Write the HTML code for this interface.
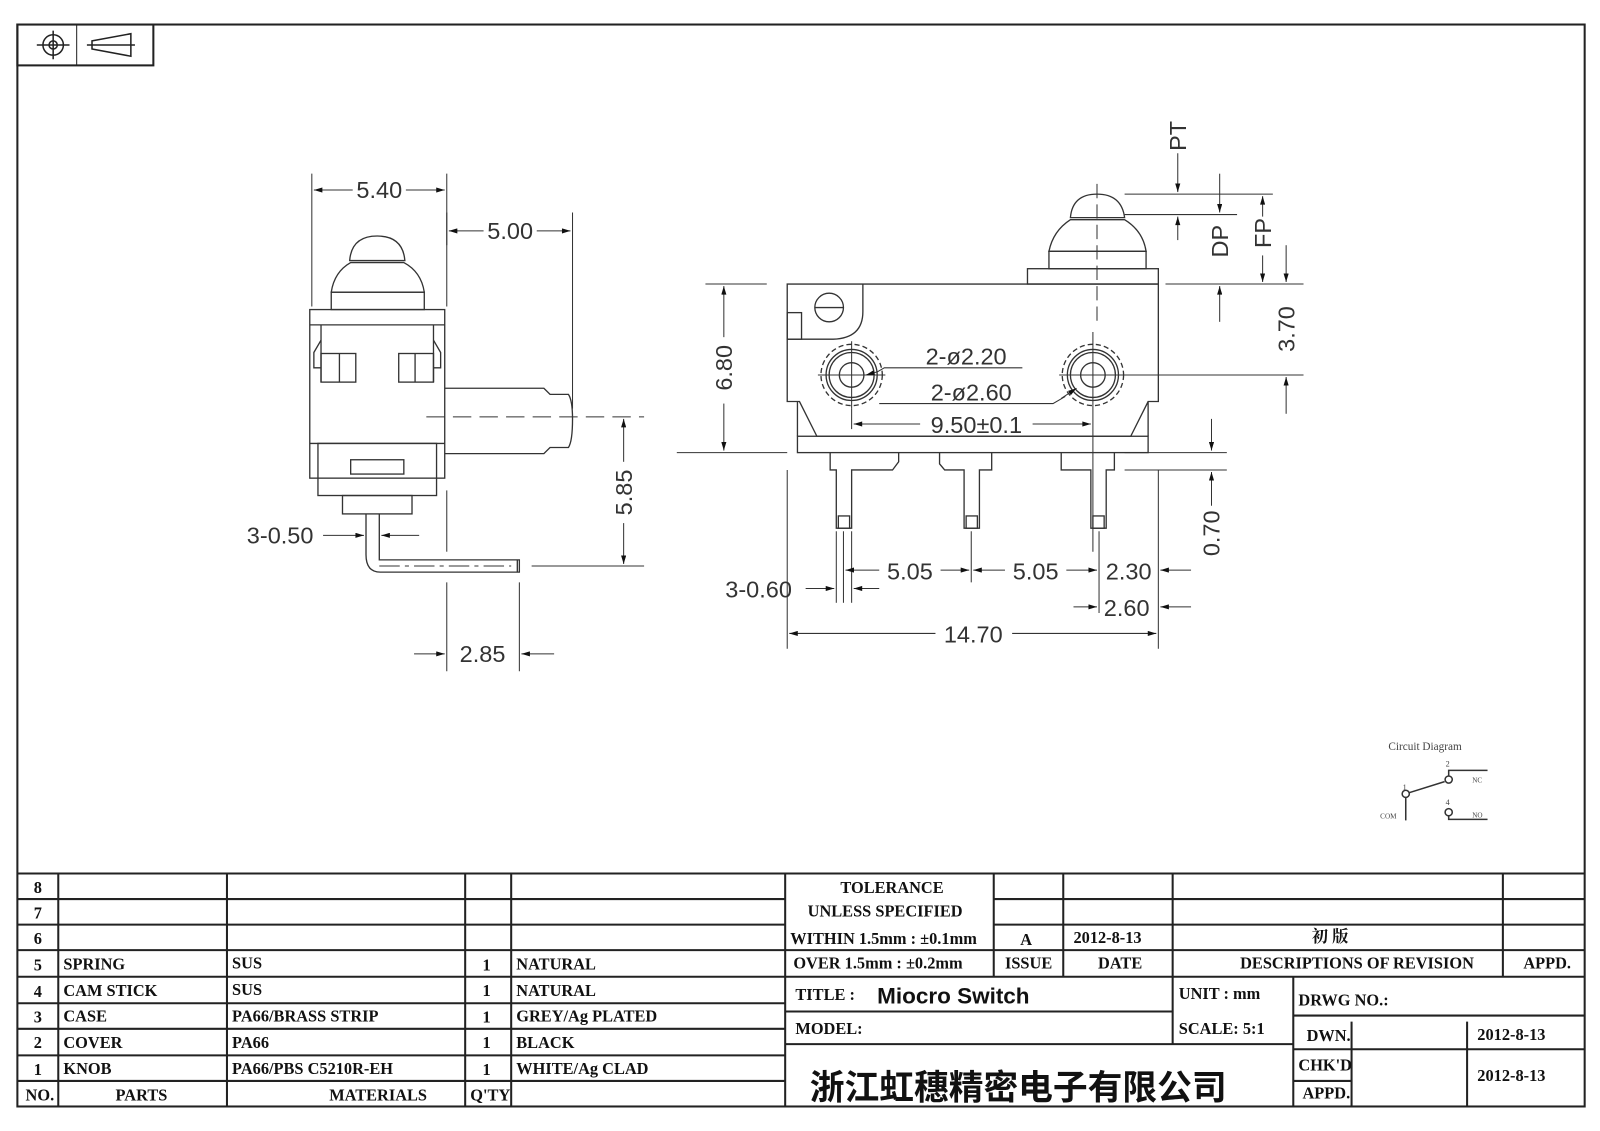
<!DOCTYPE html>
<html><head><meta charset="utf-8"><style>
html,body{margin:0;padding:0;background:#fff;}
svg{display:block;}
.t{font-family:"Liberation Serif","Noto Serif CJK SC",serif;font-weight:bold;font-size:16px;fill:#111;}
.d{font-family:"Liberation Sans",sans-serif;font-size:23px;fill:#333;}
</style></head><body>
<svg width="1600" height="1131" viewBox="0 0 1565 1107" preserveAspectRatio="none" xmlns="http://www.w3.org/2000/svg">
<defs>
<marker id="a" viewBox="0 0 10 6" refX="10" refY="3" markerWidth="12" markerHeight="5" orient="auto-start-reverse" markerUnits="userSpaceOnUse"><path d="M0,0L10,3L0,6z" fill="#111"/></marker>
</defs>
<rect width="1565" height="1107" fill="#fff"/>
<g fill="none" stroke="#222" stroke-width="2">
<rect x="17" y="24" width="1533" height="1059"/>
<rect x="17" y="24" width="133" height="40"/>
<line x1="75" y1="24" x2="75" y2="64" stroke-width="1"/>
</g>
<g fill="none" stroke="#222" stroke-width="1.5">
<circle cx="52" cy="44" r="10"/><circle cx="52" cy="44" r="4"/>
<line x1="36" y1="44" x2="68" y2="44"/><line x1="52" y1="30" x2="52" y2="58"/>
<path d="M90,40 L128,33 L128,55 L90,48 Z"/><line x1="85" y1="44" x2="132" y2="44"/>
</g>

<!-- LEFT VIEW -->
<g fill="none" stroke="#333" stroke-width="1.3">
<path d="M342,255 Q344,231 369,231 Q394,231 396,255 Z"/>
<path d="M343,257 L395,257 Q412,266 415,286 L324,286 Q327,266 343,257 Z"/>
<rect x="324" y="286" width="91" height="17"/>
<rect x="303" y="303" width="132" height="165"/>
<line x1="303" y1="318" x2="435" y2="318"/>
<line x1="314" y1="318" x2="314" y2="374"/><line x1="424" y1="318" x2="424" y2="374"/>
<path d="M314,333 L307,345 L307,360 L314,360"/><path d="M424,333 L431,345 L431,360 L424,360"/>
<rect x="314" y="346" width="34" height="28"/><line x1="332" y1="346" x2="332" y2="374"/>
<rect x="390" y="346" width="34" height="28"/><line x1="406" y1="346" x2="406" y2="374"/>
<line x1="303" y1="434" x2="435" y2="434"/>
<rect x="311" y="434" width="116" height="51"/>
<rect x="343" y="450" width="52" height="14"/>
<rect x="335" y="485" width="68" height="18"/>
<path d="M358,503 L358,543 Q358,560 372,560 L508,560 L508,548 L371,548 L371,503"/>
<line x1="506" y1="548" x2="506" y2="560"/>
<path d="M435,380 L532,380 L538,386 L556,386 Q560,392 560,410 Q560,432 556,438 L538,438 L532,444 L435,444"/>
</g>
<g stroke="#333" stroke-width="1" fill="none">
<line x1="305" y1="170" x2="305" y2="300"/><line x1="437" y1="170" x2="437" y2="300"/>
<line x1="437" y1="208" x2="437" y2="240"/><line x1="560" y1="208" x2="560" y2="400"/>
<line x1="437" y1="480" x2="437" y2="540"/>
<line x1="417" y1="408" x2="630" y2="408" stroke-dasharray="18,8"/>
<line x1="371" y1="554" x2="500" y2="554" stroke-dasharray="20,5,4,5"/>
<line x1="520" y1="554" x2="630" y2="554"/>
<line x1="437" y1="570" x2="437" y2="657"/><line x1="508" y1="570" x2="508" y2="657"/>
<line x1="307" y1="186" x2="345" y2="186" marker-start="url(#a)"/><line x1="397" y1="186" x2="435" y2="186" marker-end="url(#a)"/>
<line x1="439" y1="226" x2="473" y2="226" marker-start="url(#a)"/><line x1="525" y1="226" x2="558" y2="226" marker-end="url(#a)"/>
<line x1="610" y1="410" x2="610" y2="452" marker-start="url(#a)"/><line x1="610" y1="512" x2="610" y2="552" marker-end="url(#a)"/>
<line x1="316" y1="524" x2="356" y2="524" marker-end="url(#a)"/><line x1="410" y1="524" x2="373" y2="524" marker-end="url(#a)"/>
<line x1="405" y1="640" x2="435" y2="640" marker-end="url(#a)"/><line x1="542" y1="640" x2="510" y2="640" marker-end="url(#a)"/>
</g>
<g class="d">
<text x="371" y="194" text-anchor="middle">5.40</text>
<text x="499" y="234" text-anchor="middle">5.00</text>
<text x="274" y="532" text-anchor="middle">3-0.50</text>
<text x="472" y="648" text-anchor="middle">2.85</text>
<text transform="translate(618,482) rotate(-90)" text-anchor="middle">5.85</text>
</g>

<!-- RIGHT VIEW -->
<g fill="none" stroke="#333" stroke-width="1.3">
<path d="M1047,213 Q1049,190 1073,190 Q1097,190 1100,213 Z"/>
<path d="M1047,215 L1100,215 Q1118,226 1121,246 L1026,246 Q1030,226 1047,215 Z"/>
<rect x="1026" y="246" width="95" height="17"/>
<rect x="1005" y="263" width="128" height="15"/>
<path d="M770,278 L1133,278 L1133,393 L1123,393 L1106,427 L799,427 L782,393 L770,393 Z"/>
<path d="M844,278 L844,305 Q844,331 815,332 L770,332"/>
<rect x="770" y="306" width="14" height="26"/>
<circle cx="811" cy="301" r="14"/><line x1="797" y1="301" x2="825" y2="301"/>
<rect x="780" y="427" width="343" height="16"/>
<line x1="780" y1="393" x2="780" y2="427"/><line x1="1123" y1="393" x2="1123" y2="427"/>
<path d="M812,443 L812,460 L818,460 L818,517 L833,517 L833,460 L873,460 L879,452 L879,443"/>
<path d="M919,443 L919,454 L924,460 L943,460 L943,517 L958,517 L958,460 L970,460 L970,443"/>
<path d="M1038,443 L1038,460 L1067,460 L1067,517 L1082,517 L1082,460 L1090,460 L1090,443"/>
<rect x="820" y="505" width="11" height="12"/><rect x="945" y="505" width="11" height="12"/><rect x="1069" y="505" width="11" height="12"/>
<circle cx="833" cy="367" r="12"/><circle cx="833" cy="367" r="22"/><circle cx="833" cy="367" r="25"/>
<circle cx="833" cy="367" r="30" stroke-dasharray="5,3"/>
<circle cx="1069" cy="367" r="12"/><circle cx="1069" cy="367" r="22"/><circle cx="1069" cy="367" r="25"/>
<circle cx="1069" cy="367" r="30" stroke-dasharray="5,3"/>
</g>
<g stroke="#333" stroke-width="1" fill="none">
<line x1="800" y1="367" x2="866" y2="367"/><line x1="833" y1="334" x2="833" y2="400"/>
<line x1="1036" y1="367" x2="1102" y2="367"/><line x1="1069" y1="325" x2="1069" y2="540"/>
<line x1="1073" y1="180" x2="1073" y2="320" stroke-dasharray="14,6"/>
<line x1="833" y1="400" x2="833" y2="420"/>
<line x1="690" y1="278" x2="750" y2="278"/><line x1="662" y1="443" x2="770" y2="443"/>
<line x1="708" y1="280" x2="708" y2="330" marker-start="url(#a)"/><line x1="708" y1="395" x2="708" y2="441" marker-end="url(#a)"/>
<line x1="1100" y1="190" x2="1245" y2="190"/><line x1="1100" y1="210" x2="1210" y2="210"/>
<line x1="1140" y1="278" x2="1275" y2="278"/><line x1="1100" y1="367" x2="1275" y2="367"/>
<line x1="1152" y1="150" x2="1152" y2="188" marker-end="url(#a)"/><line x1="1152" y1="235" x2="1152" y2="212" marker-end="url(#a)"/>
<line x1="1193" y1="170" x2="1193" y2="208" marker-end="url(#a)"/><line x1="1193" y1="315" x2="1193" y2="280" marker-end="url(#a)"/>
<line x1="1235" y1="212" x2="1235" y2="192" marker-end="url(#a)"/><line x1="1235" y1="250" x2="1235" y2="276" marker-end="url(#a)"/>
<line x1="1258" y1="240" x2="1258" y2="276" marker-end="url(#a)"/><line x1="1258" y1="405" x2="1258" y2="369" marker-end="url(#a)"/>
<line x1="1100" y1="443" x2="1200" y2="443"/><line x1="1100" y1="460" x2="1200" y2="460"/>
<line x1="1185" y1="410" x2="1185" y2="441" marker-end="url(#a)"/><line x1="1185" y1="495" x2="1185" y2="462" marker-end="url(#a)"/>
<path d="M1000,360 L865,360 L858,364" /><line x1="858" y1="364" x2="847" y2="367" marker-end="url(#a)"/>
<path d="M860,395 L1030,395 L1042,388" /><line x1="1038" y1="390" x2="1053" y2="380" marker-end="url(#a)"/>
<line x1="835" y1="415" x2="900" y2="415" marker-start="url(#a)"/><line x1="1010" y1="415" x2="1067" y2="415" marker-end="url(#a)"/>
<line x1="770" y1="460" x2="770" y2="635"/><line x1="1133" y1="460" x2="1133" y2="635"/>
<line x1="818" y1="520" x2="818" y2="590"/><line x1="825" y1="520" x2="825" y2="590"/><line x1="833" y1="520" x2="833" y2="590"/>
<line x1="950" y1="520" x2="950" y2="570"/><line x1="1075" y1="520" x2="1075" y2="600"/>
<line x1="827" y1="558" x2="860" y2="558" marker-start="url(#a)"/><line x1="920" y1="558" x2="948" y2="558" marker-end="url(#a)"/>
<line x1="952" y1="558" x2="983" y2="558" marker-start="url(#a)"/><line x1="1043" y1="558" x2="1073" y2="558" marker-end="url(#a)"/>
<line x1="1165" y1="558" x2="1135" y2="558" marker-end="url(#a)"/>
<line x1="788" y1="576" x2="816" y2="576" marker-end="url(#a)"/><line x1="860" y1="576" x2="835" y2="576" marker-end="url(#a)"/>
<line x1="1050" y1="594" x2="1073" y2="594" marker-end="url(#a)"/><line x1="1165" y1="594" x2="1135" y2="594" marker-end="url(#a)"/>
<line x1="772" y1="620" x2="915" y2="620" marker-start="url(#a)"/><line x1="990" y1="620" x2="1131" y2="620" marker-end="url(#a)"/>
</g>
<g class="d">
<text transform="translate(716,360) rotate(-90)" text-anchor="middle">6.80</text>
<text transform="translate(1160,133) rotate(-90)" text-anchor="middle">PT</text>
<text transform="translate(1201,236) rotate(-90)" text-anchor="middle">DP</text>
<text transform="translate(1243,228) rotate(-90)" text-anchor="middle">FP</text>
<text transform="translate(1266,322) rotate(-90)" text-anchor="middle">3.70</text>
<text transform="translate(1193,522) rotate(-90)" text-anchor="middle">0.70</text>
<text x="945" y="357" text-anchor="middle">2-ø2.20</text>
<text x="950" y="392" text-anchor="middle">2-ø2.60</text>
<text x="955" y="424" text-anchor="middle">9.50±0.1</text>
<text x="890" y="567" text-anchor="middle">5.05</text>
<text x="1013" y="567" text-anchor="middle">5.05</text>
<text x="1104" y="567" text-anchor="middle">2.30</text>
<text x="742" y="585" text-anchor="middle">3-0.60</text>
<text x="1102" y="603" text-anchor="middle">2.60</text>
<text x="952" y="629" text-anchor="middle">14.70</text>
</g>

<!-- CIRCUIT -->
<g fill="none" stroke="#333" stroke-width="1.5">
<line x1="1375" y1="781" x2="1375" y2="803"/>
<circle cx="1375" cy="777" r="3.5"/>
<line x1="1378" y1="776" x2="1413" y2="765"/>
<circle cx="1417" cy="763" r="3.5"/>
<path d="M1417,759 L1417,754 L1455,754"/>
<circle cx="1417" cy="795" r="3.5"/>
<path d="M1417,799 L1417,802 L1455,802"/>
</g>
<g font-family="Liberation Serif,serif" fill="#444">
<text x="1358" y="734" font-size="11">Circuit Diagram</text>
<text x="1350" y="801" font-size="7">COM</text>
<text x="1414" y="750" font-size="8">2</text><text x="1372" y="773" font-size="8">1</text>
<text x="1414" y="788" font-size="8">4</text>
<text x="1440" y="766" font-size="7">NC</text><text x="1440" y="800" font-size="7">NO</text>
</g>

<!-- TABLE -->
<g stroke="#222" stroke-width="2" fill="none">
<line x1="17" y1="855" x2="1550" y2="855"/>
<line x1="17" y1="880" x2="768" y2="880"/><line x1="17" y1="905" x2="768" y2="905"/>
<line x1="17" y1="930" x2="768" y2="930"/><line x1="17" y1="956" x2="1550" y2="956"/>
<line x1="17" y1="982" x2="768" y2="982"/><line x1="17" y1="1007" x2="768" y2="1007"/>
<line x1="17" y1="1033" x2="768" y2="1033"/><line x1="17" y1="1058" x2="768" y2="1058"/>
<line x1="57" y1="855" x2="57" y2="1083"/><line x1="222" y1="855" x2="222" y2="1083"/>
<line x1="455" y1="855" x2="455" y2="1083"/><line x1="500" y1="855" x2="500" y2="1083"/>
<line x1="768" y1="855" x2="768" y2="1083"/>
<line x1="972" y1="855" x2="972" y2="956"/><line x1="1040" y1="855" x2="1040" y2="956"/>
<line x1="1147" y1="855" x2="1147" y2="1022"/><line x1="1470" y1="855" x2="1470" y2="956"/>
<line x1="972" y1="880" x2="1550" y2="880"/><line x1="972" y1="905" x2="1550" y2="905"/>
<line x1="768" y1="930" x2="1550" y2="930"/>
<line x1="768" y1="990" x2="1147" y2="990"/><line x1="768" y1="1022" x2="1265" y2="1022"/>
<line x1="1265" y1="956" x2="1265" y2="1083"/>
<line x1="1265" y1="994" x2="1550" y2="994"/><line x1="1265" y1="1027" x2="1550" y2="1027"/>
<line x1="1265" y1="1058" x2="1322" y2="1058"/>
<line x1="1322" y1="1000" x2="1322" y2="1083"/><line x1="1435" y1="1000" x2="1435" y2="1083"/>
</g>
<g class="t">
<text x="33" y="874">8</text><text x="33" y="899">7</text><text x="33" y="924">6</text>
<text x="33" y="950">5</text><text x="33" y="976">4</text><text x="33" y="1001">3</text>
<text x="33" y="1026">2</text><text x="33" y="1052">1</text><text x="25" y="1077">NO.</text>
<text x="62" y="949">SPRING</text><text x="62" y="975">CAM STICK</text><text x="62" y="1000">CASE</text>
<text x="62" y="1026">COVER</text><text x="62" y="1051">KNOB</text><text x="113" y="1077">PARTS</text>
<text x="227" y="948">SUS</text><text x="227" y="974">SUS</text><text x="227" y="1000">PA66/BRASS STRIP</text>
<text x="227" y="1026">PA66</text><text x="227" y="1051">PA66/PBS C5210R-EH</text><text x="322" y="1077">MATERIALS</text>
<text x="472" y="950">1</text><text x="472" y="975">1</text><text x="472" y="1001">1</text>
<text x="472" y="1026">1</text><text x="472" y="1052">1</text><text x="460" y="1077">Q'TY</text>
<text x="505" y="949">NATURAL</text><text x="505" y="975">NATURAL</text><text x="505" y="1000">GREY/Ag PLATED</text>
<text x="505" y="1026">BLACK</text><text x="505" y="1051">WHITE/Ag CLAD</text>
<text x="822" y="874">TOLERANCE</text><text x="790" y="897">UNLESS  SPECIFIED</text>
<text x="773" y="924">WITHIN 1.5mm : ±0.1mm</text><text x="776" y="948">OVER 1.5mm : ±0.2mm</text>
<text x="998" y="925">A</text><text x="1050" y="923">2012-8-13</text>
<text x="983" y="948">ISSUE</text><text x="1074" y="948">DATE</text>
<text x="1283" y="922">初  版</text>
<text x="1213" y="948">DESCRIPTIONS OF REVISION</text><text x="1490" y="948">APPD.</text>
<text x="778" y="979">TITLE :</text>
<text x="778" y="1012">MODEL:</text>
<text x="1153" y="978">UNIT :  mm</text><text x="1153" y="1012">SCALE:  5:1</text>
<text x="1270" y="984">DRWG NO.:</text>
<text x="1278" y="1019">DWN.</text><text x="1270" y="1048">CHK'D</text><text x="1274" y="1075">APPD.</text>
<text x="1445" y="1018">2012-8-13</text><text x="1445" y="1058">2012-8-13</text>
</g>
<text x="858" y="982" font-family="Liberation Sans,sans-serif" font-weight="bold" font-size="22" fill="#111">Miocro Switch</text>
<text x="792" y="1076" font-family="Liberation Sans,'Noto Sans CJK SC',sans-serif" font-weight="bold" font-size="34" fill="#111">浙江虹穗精密电子有限公司</text>
</svg>
</body></html>
